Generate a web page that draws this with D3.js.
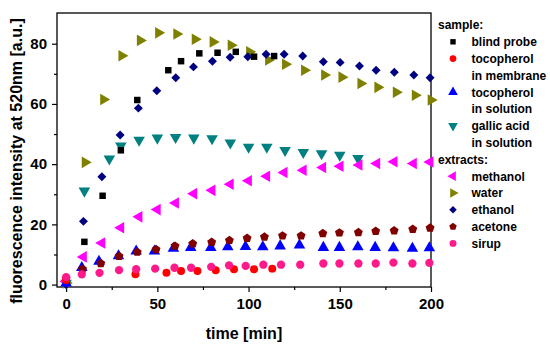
<!DOCTYPE html>
<html>
<head>
<meta charset="utf-8">
<script src="https://cdn.jsdelivr.net/npm/d3@7"></script>
<style>
  body { margin: 0; background: #fff; }
  svg { font-family: "Liberation Sans", Arial, sans-serif; font-weight: bold; }
</style>
</head>
<body>
<svg id="chart" width="550" height="346"></svg>
<script>
// values: [time (min), intensity (a.u.)]
const blindProbe = [[0,0.8],[10,14.2],[20,29.5],[30,44.6],[39,61.3],[56,71.2],[63,74.2],[73,76.8],[83,77],[93,77.3],[103,75.7],[114,75.9]]
const tocoMembrane = [[0,1.5],[38,3.4],[55,3.9],[63,4.5],[72,4.5],[82,4.8],[92,5.1],[103,5.1],[113,5.3]]
const tocoSolution = [[0,0.5],[8.6,5.6],[18,7.7],[28.7,9.5],[38.4,11.1],[48.4,11.1],[58.8,12],[68.3,12.3],[79.3,12.3],[88.6,12.5],[98.3,12.6],[107.8,12.5],[117.3,12.8],[127.9,13.1],[141,12.3],[149.8,12.3],[159.9,12.5],[169.4,12.3],[179.4,12.2],[189.8,12],[199.1,12.2]]
const gallicAcid = [[0,0.5],[10,31.1],[23.7,41.8],[30,46.1],[40,48],[50,48.7],[60,48.9],[70,48.7],[80,48.5],[90,47.1],[100,45.7],[110,45.7],[120,44.6],[130,43.9],[140,43.5],[150,43],[160,41.9]]
const methanol = [[0,1],[9.5,9.2],[19.6,13.8],[30,18.9],[40,22.5],[50,24.9],[60,27.1],[70,30.2],[80,31.3],[90,33.3],[100,34.5],[110,36],[119.5,37.2],[130,38],[140.7,38.9],[150.2,39.3],[160.6,39.7],[170.3,40.2],[179.8,40.8],[190.4,40.2],[199.5,40.7]]
const water = [[0,0.5],[10.4,40.6],[20.5,61.5],[30.5,76],[40.6,81.1],[50.6,83.6],[60.6,83.2],[70.7,81.5],[80.5,80.6],[90.4,79.5],[100.5,77.3],[110.9,74.6],[120.2,73.2],[130.6,71.2],[141.6,69.6],[151.1,68.9],[161.5,66.8],[170.8,65.5],[180.9,63.9],[191.3,62.9],[200,61.3]]
const ethanol = [[0,0],[9.5,21],[19.6,35.8],[29.6,49.7],[39.6,58.6],[49.7,64.4],[60.1,68.7],[69.8,72.3],[80.2,74.2],[89.9,75.5],[99.6,75.7],[109.6,76.5],[119.5,76.5],[129.7,75.9],[141,74],[150.2,73.8],[160.8,72.6],[169.9,71.2],[179.9,70.5],[190.6,69.6],[199.5,68.7]]
const acetone = [[0,2],[9,5.1],[19,7],[29,9.4],[39,10.8],[49.3,11.7],[59.7,12.8],[69.4,13.6],[79.8,14.1],[89.5,14.7],[99.2,15.4],[108.7,15.8],[118.6,16.2],[128.8,16.2],[140.7,17],[149.8,17.2],[160.2,17.3],[169.7,17.7],[179.8,17.9],[190,18.4],[199.5,18.8]]
const sirup = [[0,2.5],[8.6,3.4],[18.3,3.9],[29,4.8],[38.4,5.1],[48.8,5.3],[59.4,5.6],[68.5,5.6],[79.5,5.9],[89.3,6.4],[98.4,6.2],[108.1,6.6],[117.8,6.6],[128.3,6.6],[141,7],[149.8,7],[160.2,7],[169.7,7],[179.4,7.3],[189.8,7],[199.1,7.2]]

const xTicks = [0, 50, 100, 150, 200]
const yTicks = [0, 20, 40, 60, 80]

const pentagon = {
  draw(ctx, size) {
    let r = Math.sqrt(size / 2.38)
    for (let i = 0; i < 5; i++) {
      let a = -Math.PI / 2 + i * 2 * Math.PI / 5
      if (i === 0) ctx.moveTo(r * Math.cos(a), r * Math.sin(a))
      else ctx.lineTo(r * Math.cos(a), r * Math.sin(a))
    }
    ctx.closePath()
  }
}

// draw order: last one ends up on top
const series = [
  { name: 'water', data: water, color: '#808000', shape: d3.symbolTriangle, size: 58, rot: 90 },
  { name: 'gallic', data: gallicAcid, color: '#008080', shape: d3.symbolTriangle, size: 58, rot: 180 },
  { name: 'ethanol', data: ethanol, color: '#000080', shape: d3.symbolSquare, size: 40, rot: 45 },
  { name: 'blind', data: blindProbe, color: '#000000', shape: d3.symbolSquare, size: 42, rot: 0 },
  { name: 'methanol', data: methanol, color: '#ff00ff', shape: d3.symbolTriangle, size: 58, rot: -90 },
  { name: 'tocoSol', data: tocoSolution, color: '#0000ff', shape: d3.symbolTriangle, size: 58, rot: 0 },
  { name: 'acetone', data: acetone, color: '#800000', shape: pentagon, size: 52, rot: 0 },
  { name: 'tocoMem', data: tocoMembrane, color: '#ff0000', shape: d3.symbolCircle, size: 50, rot: 0 },
  { name: 'sirup', data: sirup, color: '#ff1a8c', shape: d3.symbolCircle, size: 54, rot: 0 }
]
const byName = {}
series.forEach(s => byName[s.name] = s)

const svg = d3.select('#chart')
const box = { left: 57, right: 431, top: 13, bottom: 287 }

const x = d3.scaleLinear().domain([-5, 200]).range([box.left, box.right])
const y = d3.scaleLinear().domain([-0.8, 90.2]).range([box.bottom, box.top])

// frame
svg.append('rect')
  .attr('x', box.left).attr('y', box.top)
  .attr('width', box.right - box.left).attr('height', box.bottom - box.top)
  .attr('fill', 'none').attr('stroke', '#000').attr('stroke-width', 1.3)

let xAxis = svg.append('g')
  .attr('transform', 'translate(0,' + box.bottom + ')')
  .call(d3.axisBottom(x).tickValues(xTicks).tickSize(5).tickPadding(6))
let xMinor = svg.append('g')
  .attr('transform', 'translate(0,' + box.bottom + ')')
  .call(d3.axisBottom(x).tickValues([25, 75, 125, 175]).tickSize(3).tickFormat(''))
let yAxis = svg.append('g')
  .attr('transform', 'translate(' + box.left + ',0)')
  .call(d3.axisLeft(y).tickValues(yTicks).tickSize(5).tickPadding(5))
let yMinor = svg.append('g')
  .attr('transform', 'translate(' + box.left + ',0)')
  .call(d3.axisLeft(y).tickValues([10, 30, 50, 70]).tickSize(3).tickFormat(''))

;[xAxis, xMinor, yAxis, yMinor].forEach(function(g) {
  g.select('.domain').remove()
  g.selectAll('line').attr('stroke', '#000').attr('stroke-width', 1.2)
  g.selectAll('text').attr('font-size', 15).attr('font-weight', 'bold')
    .attr('font-family', '"Liberation Sans", Arial, sans-serif').attr('fill', '#000')
})

// markers
series.forEach(function(s) {
  let sym = d3.symbol().type(s.shape).size(s.size)
  svg.append('g').selectAll('path')
    .data(s.data)
    .join('path')
    .attr('d', sym)
    .attr('transform', d => 'translate(' + x(d[0]) + ',' + y(d[1]) + ') rotate(' + s.rot + ')')
    .attr('fill', s.color)
})

// axis titles
svg.append('text')
  .attr('transform', 'translate(22,161) rotate(-90)')
  .attr('text-anchor', 'middle')
  .attr('font-size', 16)
  .text('fluorescence intensity at 520nm [a.u.]')
svg.append('text')
  .attr('x', 244).attr('y', 339)
  .attr('text-anchor', 'middle')
  .attr('font-size', 16)
  .text('time [min]')

// legend
const legendRows = [
  { text: 'sample:', head: true },
  { text: 'blind probe', key: 'blind' },
  { text: 'tocopherol', key: 'tocoMem' },
  { text: 'in membrane' },
  { text: 'tocopherol', key: 'tocoSol' },
  { text: 'in solution' },
  { text: 'gallic acid', key: 'gallic' },
  { text: 'in solution' },
  { text: 'extracts:', head: true },
  { text: 'methanol', key: 'methanol' },
  { text: 'water', key: 'water' },
  { text: 'ethanol', key: 'ethanol' },
  { text: 'acetone', key: 'acetone' },
  { text: 'sirup', key: 'sirup' }
]
let legend = svg.append('g')
legendRows.forEach(function(r, i) {
  let cy = 25 + i * 16.8
  legend.append('text')
    .attr('x', r.head ? 438 : 471.5)
    .attr('y', cy + 4.3)
    .attr('font-size', 12)
    .text(r.text)
  if (r.key) {
    let s = byName[r.key]
    legend.append('path')
      .attr('d', d3.symbol().type(s.shape).size(s.size * 0.7)())
      .attr('transform', 'translate(453,' + cy + ') rotate(' + s.rot + ')')
      .attr('fill', s.color)
  }
})
</script>
</body>
</html>
